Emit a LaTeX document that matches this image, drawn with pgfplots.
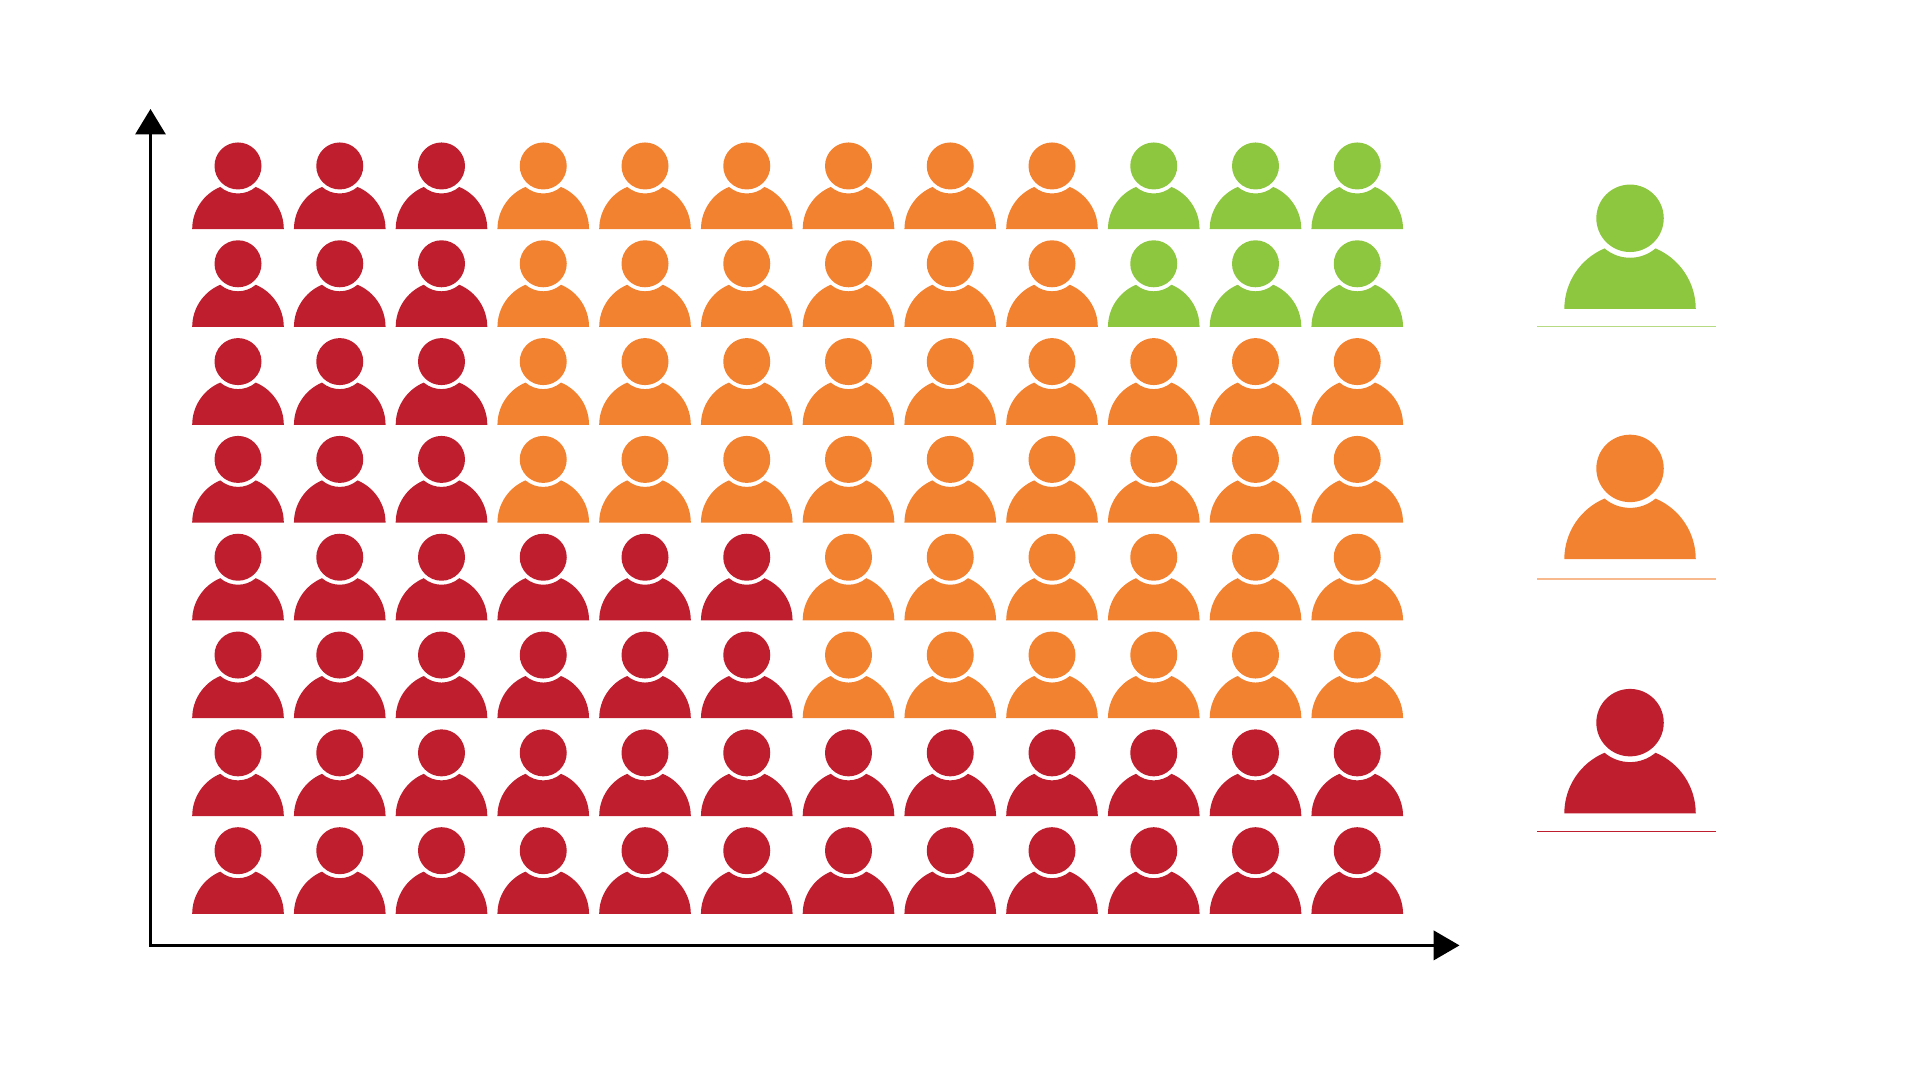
\documentclass[border=0pt]{standalone}
\usepackage{pgfplots}
\pgfplotsset{compat=1.18}
\usetikzlibrary{arrows.meta}
\definecolor{pred}{HTML}{BE1E2D}
\definecolor{porange}{HTML}{F2822F}
\definecolor{pgreen}{HTML}{8DC63F}
\pgfdeclareplotmark{person}{%
  \pgfpathcircle{\pgfpointorigin}{11.75pt}%
  \pgfusepathqfill
  \pgfpathmoveto{\pgfpoint{-22.9pt}{-31.6pt}}%
  \pgfpatharc{180}{112.83}{22.9pt}%
  \pgfpatharc{-130.25}{-49.75}{13.75pt}%
  \pgfpatharc{67.17}{0}{22.9pt}%
  \pgfpathclose
  \pgfusepathqfill
}
\begin{document}
\begin{tikzpicture}
\path[use as bounding box] (0,0) rectangle (960pt,540pt);
\begin{axis}[
  at={(75.25pt,67.3pt)}, anchor=south west,
  scale only axis, width=654.5pt, height=418.2pt,
  xmin=0.14005, xmax=13.005, ymin=0.0317, ymax=8.5825,
  axis lines=left, ticks=none, clip=false,
  axis line style={line width=1.5pt, line cap=rect},
  x axis line style={-{Triangle[length=13pt,width=14.7pt]}},
  y axis line style={-{Triangle[length=12.7pt,width=15pt]}},
]
\addplot[only marks, mark=person, color=pred] coordinates {
 (1,8)(2,8)(3,8)
 (1,7)(2,7)(3,7)
 (1,6)(2,6)(3,6)
 (1,5)(2,5)(3,5)
 (1,4)(2,4)(3,4)(4,4)(5,4)(6,4)
 (1,3)(2,3)(3,3)(4,3)(5,3)(6,3)
 (1,2)(2,2)(3,2)(4,2)(5,2)(6,2)(7,2)(8,2)(9,2)(10,2)(11,2)(12,2)
 (1,1)(2,1)(3,1)(4,1)(5,1)(6,1)(7,1)(8,1)(9,1)(10,1)(11,1)(12,1)
};
\addplot[only marks, mark=person, color=porange] coordinates {
 (4,8)(5,8)(6,8)(7,8)(8,8)(9,8)
 (4,7)(5,7)(6,7)(7,7)(8,7)(9,7)
 (4,6)(5,6)(6,6)(7,6)(8,6)(9,6)(10,6)(11,6)(12,6)
 (4,5)(5,5)(6,5)(7,5)(8,5)(9,5)(10,5)(11,5)(12,5)
 (7,4)(8,4)(9,4)(10,4)(11,4)(12,4)
 (7,3)(8,3)(9,3)(10,3)(11,3)(12,3)
};
\addplot[only marks, mark=person, color=pgreen] coordinates {
 (10,8)(11,8)(12,8)
 (10,7)(11,7)(12,7)
};
% legend people (head centres in the same units)
\addplot[only marks, mark=person, color=pgreen, mark options={scale=1.435}] coordinates {(14.681,7.465)};
\addplot[only marks, mark=person, color=porange, mark options={scale=1.435}] coordinates {(14.681,4.908)};
\addplot[only marks, mark=person, color=pred, mark options={scale=1.435}] coordinates {(14.681,2.309)};
% legend rules
\addplot[no marks, sharp plot, color=pgreen!65, line width=0.5pt] coordinates {(13.770,6.356)(15.526,6.356)};
\addplot[no marks, sharp plot, color=porange!55, line width=1pt] coordinates {(13.770,3.776)(15.526,3.776)};
\addplot[no marks, sharp plot, color=pred, line width=0.5pt] coordinates {(13.770,1.196)(15.526,1.196)};
\end{axis}
\end{tikzpicture}
\end{document}
